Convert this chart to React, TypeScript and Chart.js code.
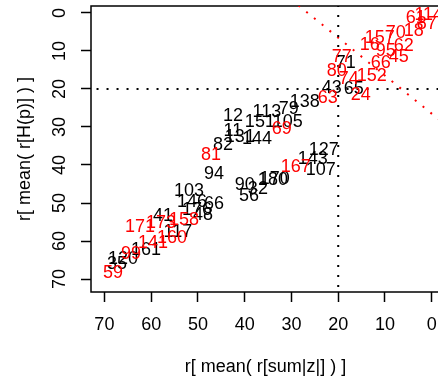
import React, { useEffect, useRef } from "react";
import { Chart, registerables } from "chart.js";

Chart.register(...registerables);

// ---- data ----
const xTicks = [0, 10, 20, 30, 40, 50, 60, 70];
const yTicks = [0, 10, 20, 30, 40, 50, 60, 70];

const redLabels = ["114", "61", "87", "18", "70", "157", "16", "62", "95", "45", "66", "77", "80", "74", "152", "24", "63", "69", "81", "167", "171", "173", "158", "160", "141", "99", "59"];
const redX = [0.64, 3.42, 1.07, 3.85, 7.69, 11.11, 13.25, 5.98, 9.83, 7.05, 10.9, 19.23, 20.3, 17.74, 12.82, 15.17, 22.22, 32.05, 47.22, 29.06, 62.39, 57.91, 52.99, 55.56, 59.62, 64.32, 68.16];
const redY = [0.53, 1.32, 2.89, 4.74, 5.26, 6.58, 8.42, 8.68, 10.0, 11.58, 13.16, 11.58, 15.26, 17.37, 16.58, 21.58, 22.37, 30.53, 37.37, 40.53, 56.32, 55.26, 54.47, 59.21, 60.53, 63.42, 68.42];

const blackLabels = ["71", "43", "65", "138", "79", "113", "12", "151", "105", "11", "131", "144", "82", "127", "143", "107", "94", "180", "170", "90", "32", "56", "103", "146", "66", "176", "48", "41", "117", "161", "120", "35"];
const blackX = [18.38, 21.37, 16.67, 27.14, 30.56, 35.26, 42.52, 36.75, 30.77, 42.52, 41.03, 37.39, 44.66, 23.08, 25.43, 23.72, 46.58, 33.97, 33.55, 39.96, 37.18, 39.1, 51.92, 51.28, 46.58, 50.21, 48.93, 57.48, 54.27, 61.11, 66.03, 67.31];
const blackY = [13.16, 19.74, 20.0, 23.42, 25.26, 26.05, 27.11, 28.68, 28.68, 31.05, 32.63, 33.16, 34.74, 36.05, 38.42, 41.32, 42.37, 43.95, 43.68, 45.26, 46.32, 48.16, 46.84, 49.74, 50.26, 51.84, 53.16, 53.42, 57.63, 62.37, 64.74, 66.05];

// reference lines
const vLineX = [20, 20];
const vLineY = [-10, 90];
const hLineX = [-10, 90];
const hLineY = [20, 20];
const diagX = [-10, 36.5];
const diagY = [36.5, -10];

const FONT = '"Liberation Sans", Arial, Helvetica, sans-serif';
const FS = 18;

const toPts = (xs: number[], ys: number[]) => xs.map((x, i) => ({ x, y: ys[i] }));

const labelPlugin = {
  id: "textLabels",
  afterDatasetsDraw(chart: any) {
    const ctx = chart.ctx;
    chart.data.datasets.forEach((ds: any, i: number) => {
      if (!ds.textLabels) return;
      const meta = chart.getDatasetMeta(i);
      ctx.save();
      ctx.font = `${FS}px ${FONT}`;
      ctx.fillStyle = ds.textColor;
      ctx.textAlign = "center";
      ctx.textBaseline = "middle";
      meta.data.forEach((el: any, j: number) => {
        ctx.fillText(ds.textLabels[j], el.x, el.y);
      });
      ctx.restore();
    });
  },
};

// rotated y tick labels (R style), positioned by the y scale
const yLabelPlugin = {
  id: "yTickLabels",
  afterDraw(chart: any) {
    const ctx = chart.ctx;
    const ys = chart.scales.y;
    ctx.save();
    ctx.font = `${FS}px ${FONT}`;
    ctx.fillStyle = "#000";
    ctx.textAlign = "center";
    ctx.textBaseline = "middle";
    ys.ticks.forEach((t: any) => {
      const py = ys.getPixelForValue(t.value);
      ctx.save();
      ctx.translate(60, py);
      ctx.rotate(-Math.PI / 2);
      ctx.fillText(String(t.value), 0, 0);
      ctx.restore();
    });
    ctx.restore();
  },
};

const boxPlugin = {
  id: "plotBox",
  beforeDatasetsDraw(chart: any) {
    const { ctx, chartArea } = chart;
    ctx.save();
    ctx.strokeStyle = "#000";
    ctx.lineWidth = 1.5;
    ctx.strokeRect(chartArea.left, chartArea.top, chartArea.right - chartArea.left, chartArea.bottom - chartArea.top);
    ctx.restore();
  },
};

export default function App() {
  const ref = useRef<HTMLCanvasElement | null>(null);

  useEffect(() => {
    if (!ref.current) return;
    Chart.defaults.font.family = FONT;
    const dotted = (xs: number[], ys: number[], color: string) => ({
      type: "scatter" as const,
      data: toPts(xs, ys),
      showLine: true,
      borderColor: color,
      borderWidth: 2,
      borderDash: [2, 8],
      borderCapStyle: "butt",
      pointRadius: 0,
      fill: false,
    });
    const chart = new Chart(ref.current, {
      type: "scatter",
      data: {
        datasets: [
          dotted(vLineX, vLineY, "#000"),
          dotted(hLineX, hLineY, "#000"),
          dotted(diagX, diagY, "#ff0000"),
          {
            data: toPts(blackX, blackY),
            pointRadius: 0,
            textLabels: blackLabels,
            textColor: "#000",
          } as any,
          {
            data: toPts(redX, redY),
            pointRadius: 0,
            textLabels: redLabels,
            textColor: "#ff0000",
          } as any,
        ],
      },
      options: {
        animation: false,
        responsive: false,
        events: [],
        layout: { padding: { top: 6, right: 10, bottom: 0, left: 0 } },
        plugins: { legend: { display: false }, tooltip: { enabled: false } },
        scales: {
          x: {
            type: "linear",
            reverse: true,
            min: -1.76,
            max: 72.86,
            afterBuildTicks: (s: any) => {
              s.ticks = xTicks.map((v) => ({ value: v }));
            },
            afterFit: (s: any) => {
              s.height = 89;
              s.paddingLeft = 0;
              s.paddingRight = 0;
            },
            grid: { drawOnChartArea: false, drawTicks: true, tickLength: 10, tickColor: "#000", tickWidth: 1.5 },
            border: { display: false },
            ticks: { color: "#000", font: { size: FS }, padding: 12.2, maxRotation: 0, minRotation: 0, autoSkip: false },
            title: { display: true, text: "r[ mean( r[sum|z|] ) ]", color: "#000", font: { size: FS }, padding: { top: 0, bottom: 3.2 } },
          },
          y: {
            type: "linear",
            reverse: true,
            min: -1.84,
            max: 73.42,
            afterBuildTicks: (s: any) => {
              s.ticks = yTicks.map((v) => ({ value: v }));
            },
            afterFit: (s: any) => {
              s.width = 91;
              s.paddingTop = 0;
              s.paddingBottom = 0;
            },
            grid: { drawOnChartArea: false, drawTicks: true, tickLength: 10, tickColor: "#000", tickWidth: 1.5 },
            border: { display: false },
            ticks: { display: false },
            title: { display: true, text: "r[ mean( r[H(p)] ) ]", color: "#000", font: { size: FS }, padding: { top: 14.2, bottom: 0 } },
          },
        },
      } as any,
      plugins: [boxPlugin, labelPlugin, yLabelPlugin],
    });
    return () => chart.destroy();
  }, []);

  return (
    <div style={{ position: "fixed", left: 0, top: 0, width: 438, height: 381, overflow: "hidden", background: "#fff" }}>
      <canvas ref={ref} width={450} height={381} style={{ display: "block", width: 450, height: 381 }} />
    </div>
  );
}
